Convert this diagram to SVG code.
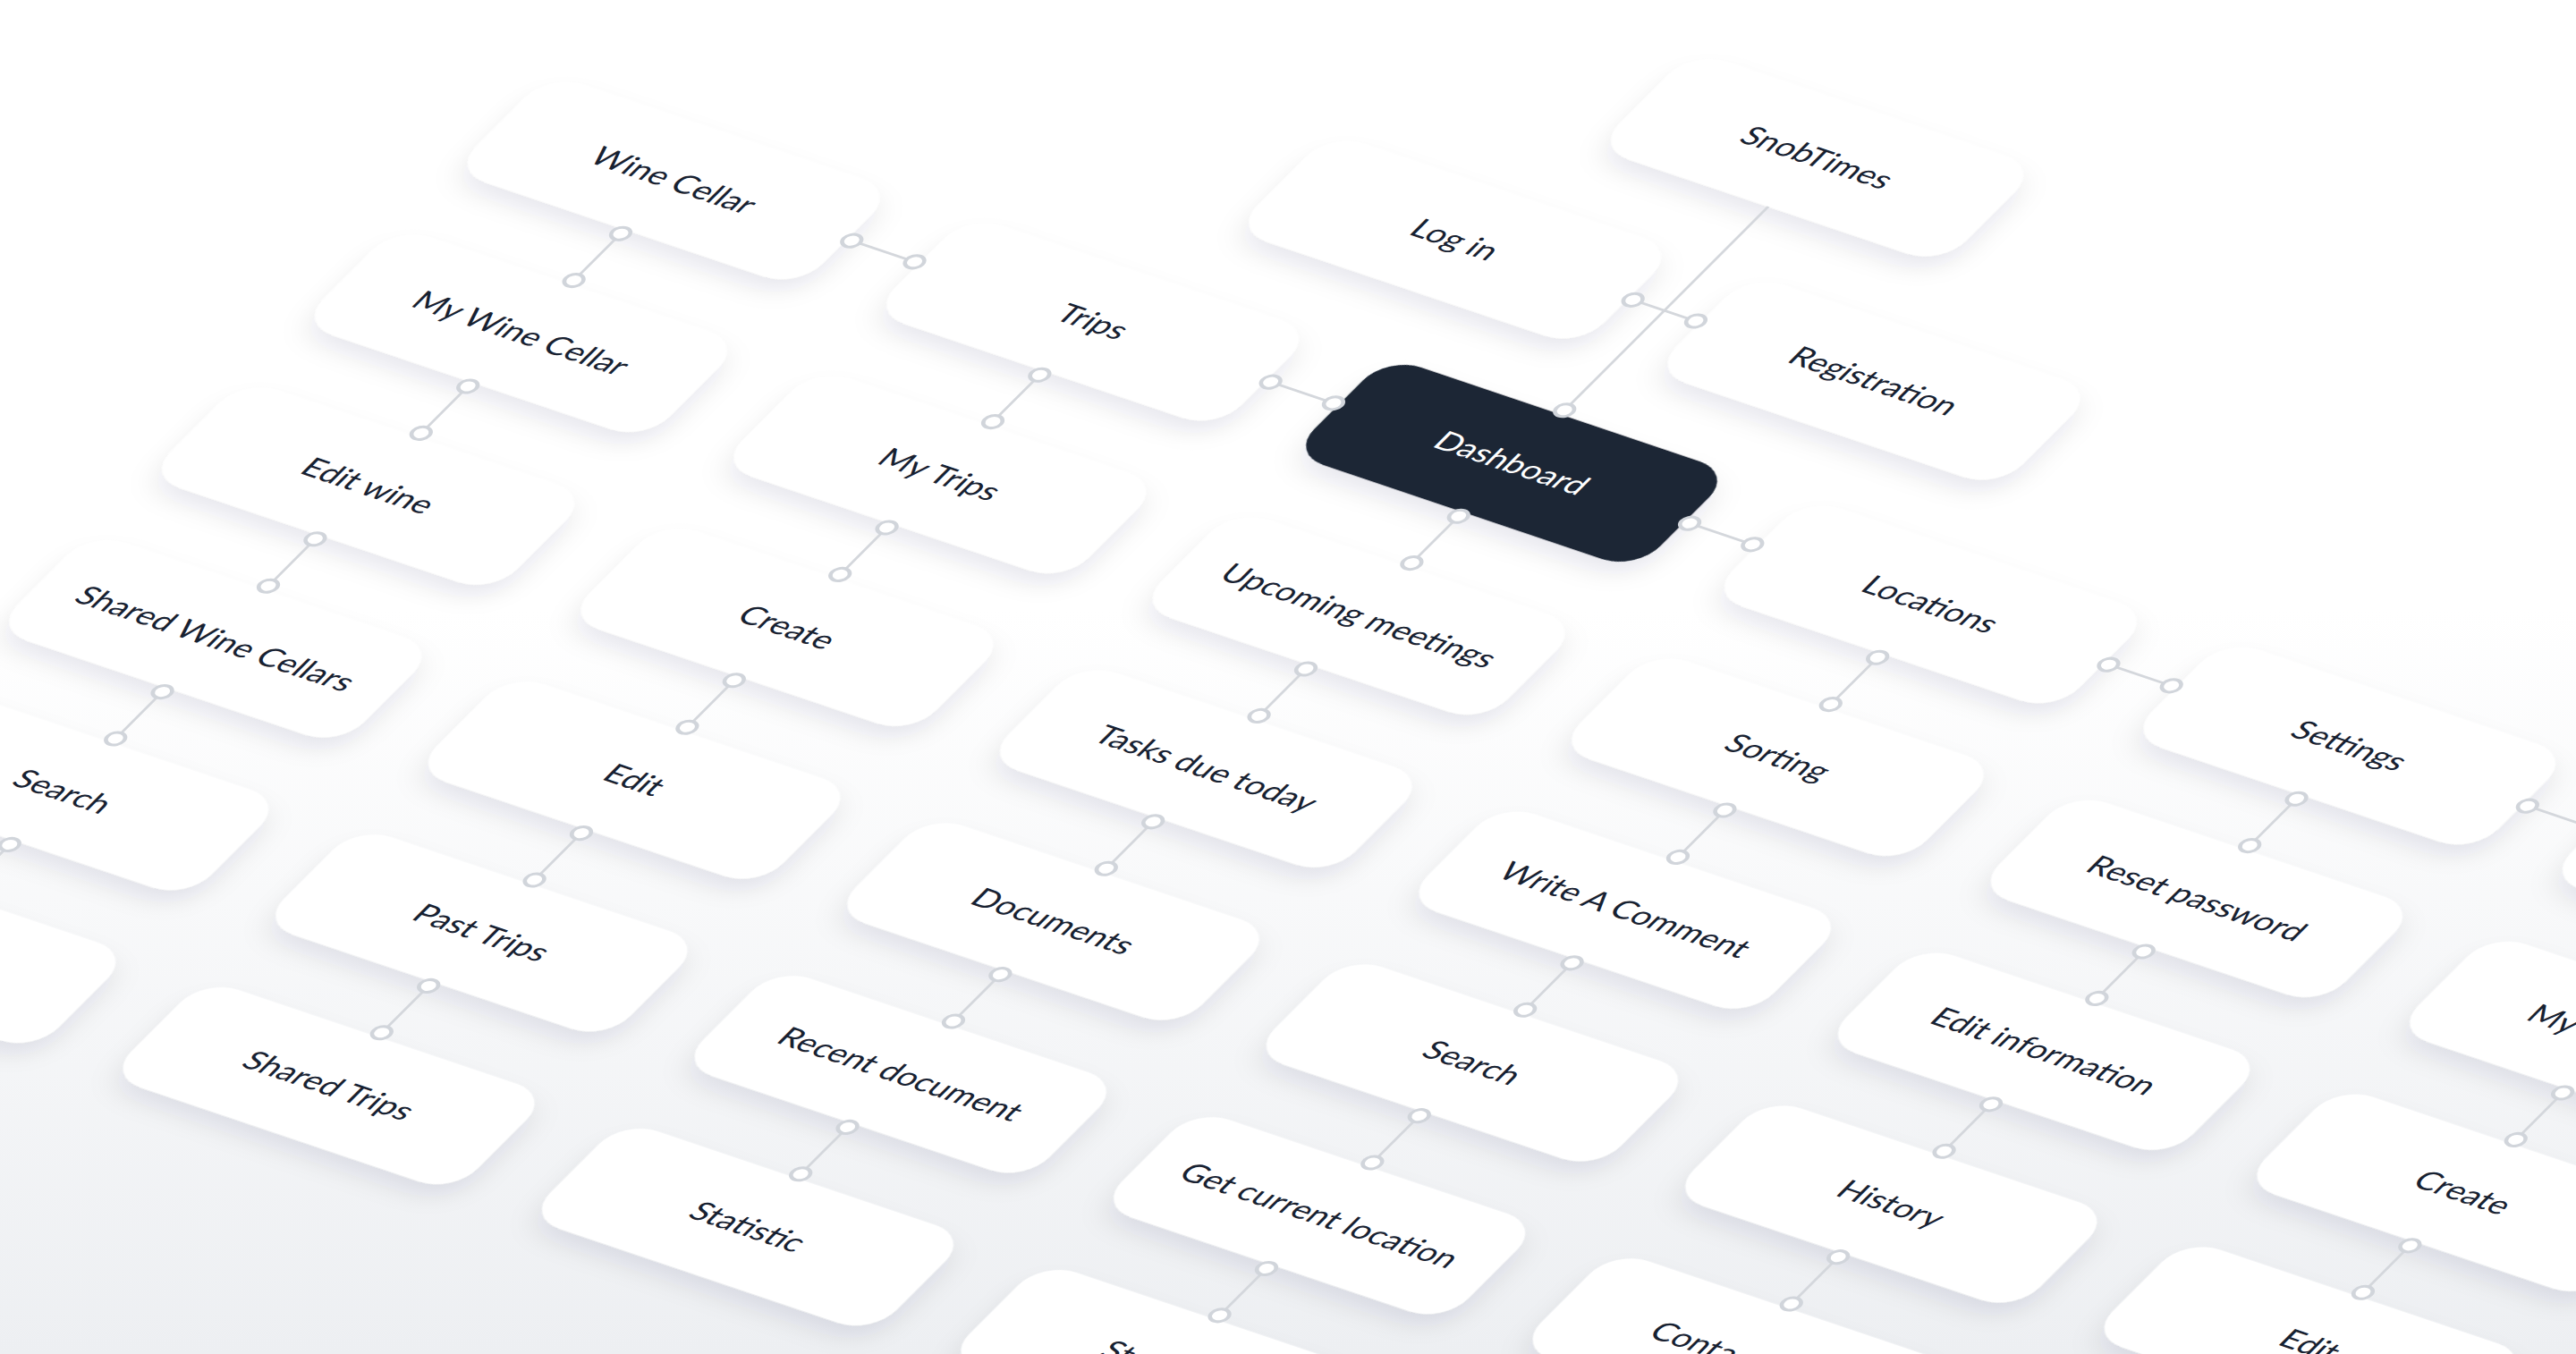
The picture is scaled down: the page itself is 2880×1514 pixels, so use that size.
<svg xmlns="http://www.w3.org/2000/svg" width="2880" height="1514" viewBox="0 0 2880 1514">
<defs>
<linearGradient id="bg" x1="0" y1="0" x2="0" y2="1">
<stop offset="0" stop-color="#ffffff"/>
<stop offset="0.45" stop-color="#ffffff"/>
<stop offset="1" stop-color="#edeff2"/>
</linearGradient>
<filter id="sh" x="-20%" y="-40%" width="140%" height="200%">
<feGaussianBlur in="SourceAlpha" stdDeviation="9"/>
<feOffset dx="4" dy="10" result="b"/>
<feFlood flood-color="#1a2540" flood-opacity="0.09"/>
<feComposite in2="b" operator="in" result="s"/>
<feMerge><feMergeNode in="s"/><feMergeNode in="SourceGraphic"/></feMerge>
</filter>
</defs>
<style>
.card{fill:#ffffff;filter:url(#sh)}
.dark{fill:#1a2535;filter:url(#sh)}
.lbl{font-family:Lato,"Noto Sans","Liberation Sans",sans-serif;font-size:22px;fill:#172131;text-anchor:middle}
.st{text-anchor:start}
.wt{fill:#ffffff}
.ln{stroke:#d4d7dc;stroke-width:1.9;fill:none}
.dot{fill:#ffffff;stroke:#d1d5db;stroke-width:2.4}
</style>
<rect width="2880" height="1514" fill="url(#bg)"/>
<g transform="matrix(1.5613 0.5267 -1.1387 1.1387 1690 518)">
<g id="nodes">
<g id="n-wine-cellar" transform="translate(-600,0)"><rect class="card" x="-124" y="-48" width="248" height="96" rx="24"/><text class="lbl" y="7.5">Wine Cellar</text></g>
<g id="n-my-wine-cellar" transform="translate(-600,150)"><rect class="card" x="-124" y="-48" width="248" height="96" rx="24"/><text class="lbl" y="7.5">My Wine Cellar</text></g>
<g id="n-edit-wine" transform="translate(-600,300)"><rect class="card" x="-124" y="-48" width="248" height="96" rx="24"/><text class="lbl" y="7.5">Edit wine</text></g>
<g id="n-shared-wine-cellars" transform="translate(-600,450)"><rect class="card" x="-124" y="-48" width="248" height="96" rx="24"/><text class="lbl" y="7.5">Shared Wine Cellars</text></g>
<g id="n-search-1" transform="translate(-600,600)"><rect class="card" x="-124" y="-48" width="248" height="96" rx="24"/><text class="lbl" y="7.5">Search</text></g>
<g id="n-blank-1" transform="translate(-600,750)"><rect class="card" x="-124" y="-48" width="248" height="96" rx="24"/></g>
<g id="n-trips" transform="translate(-300,0)"><rect class="card" x="-124" y="-48" width="248" height="96" rx="24"/><text class="lbl" y="7.5">Trips</text></g>
<g id="n-my-trips" transform="translate(-300,150)"><rect class="card" x="-124" y="-48" width="248" height="96" rx="24"/><text class="lbl" y="7.5">My Trips</text></g>
<g id="n-create-1" transform="translate(-300,300)"><rect class="card" x="-124" y="-48" width="248" height="96" rx="24"/><text class="lbl" y="7.5">Create</text></g>
<g id="n-edit-1" transform="translate(-300,450)"><rect class="card" x="-124" y="-48" width="248" height="96" rx="24"/><text class="lbl" y="7.5">Edit</text></g>
<g id="n-past-trips" transform="translate(-300,600)"><rect class="card" x="-124" y="-48" width="248" height="96" rx="24"/><text class="lbl" y="7.5">Past Trips</text></g>
<g id="n-shared-trips" transform="translate(-300,750)"><rect class="card" x="-124" y="-48" width="248" height="96" rx="24"/><text class="lbl" y="7.5">Shared Trips</text></g>
<g id="n-snobtimes" transform="translate(0,-300)"><rect class="card" x="-124" y="-48" width="248" height="96" rx="24"/><text class="lbl" y="7.5">SnobTimes</text></g>
<g id="n-login" transform="translate(-150,-150)"><rect class="card" x="-124" y="-48" width="248" height="96" rx="24"/><text class="lbl" y="7.5">Log in</text></g>
<g id="n-registration" transform="translate(150,-150)"><rect class="card" x="-124" y="-48" width="248" height="96" rx="24"/><text class="lbl" y="7.5">Registration</text></g>
<g id="n-dashboard" transform="translate(0,0)"><rect class="dark" x="-124" y="-48" width="248" height="96" rx="24"/><text class="lbl wt" y="7.5">Dashboard</text></g>
<g id="n-upcoming-meetings" transform="translate(0,150)"><rect class="card" x="-124" y="-48" width="248" height="96" rx="24"/><text class="lbl" y="7.5">Upcoming meetings</text></g>
<g id="n-tasks-due-today" transform="translate(0,300)"><rect class="card" x="-124" y="-48" width="248" height="96" rx="24"/><text class="lbl" y="7.5">Tasks due today</text></g>
<g id="n-documents" transform="translate(0,450)"><rect class="card" x="-124" y="-48" width="248" height="96" rx="24"/><text class="lbl" y="7.5">Documents</text></g>
<g id="n-recent-document" transform="translate(0,600)"><rect class="card" x="-124" y="-48" width="248" height="96" rx="24"/><text class="lbl" y="7.5">Recent document</text></g>
<g id="n-statistic" transform="translate(0,750)"><rect class="card" x="-124" y="-48" width="248" height="96" rx="24"/><text class="lbl" y="7.5">Statistic</text></g>
<g id="n-locations" transform="translate(300,0)"><rect class="card" x="-124" y="-48" width="248" height="96" rx="24"/><text class="lbl" y="7.5">Locations</text></g>
<g id="n-sorting" transform="translate(300,150)"><rect class="card" x="-124" y="-48" width="248" height="96" rx="24"/><text class="lbl" y="7.5">Sorting</text></g>
<g id="n-write-a-comment" transform="translate(300,300)"><rect class="card" x="-124" y="-48" width="248" height="96" rx="24"/><text class="lbl" y="7.5">Write A Comment</text></g>
<g id="n-search-2" transform="translate(300,450)"><rect class="card" x="-124" y="-48" width="248" height="96" rx="24"/><text class="lbl" y="7.5">Search</text></g>
<g id="n-get-current-location" transform="translate(300,600)"><rect class="card" x="-124" y="-48" width="248" height="96" rx="24"/><text class="lbl" y="7.5">Get current location</text></g>
<g id="n-st" transform="translate(300,750)"><rect class="card" x="-124" y="-48" width="248" height="96" rx="24"/><text class="lbl st" x="-44" y="7.5">St</text></g>
<g id="n-settings" transform="translate(600,0)"><rect class="card" x="-124" y="-48" width="248" height="96" rx="24"/><text class="lbl" y="7.5">Settings</text></g>
<g id="n-reset-password" transform="translate(600,150)"><rect class="card" x="-124" y="-48" width="248" height="96" rx="24"/><text class="lbl" y="7.5">Reset password</text></g>
<g id="n-edit-information" transform="translate(600,300)"><rect class="card" x="-124" y="-48" width="248" height="96" rx="24"/><text class="lbl" y="7.5">Edit information</text></g>
<g id="n-history" transform="translate(600,450)"><rect class="card" x="-124" y="-48" width="248" height="96" rx="24"/><text class="lbl" y="7.5">History</text></g>
<g id="n-conta" transform="translate(600,600)"><rect class="card" x="-124" y="-48" width="248" height="96" rx="24"/><text class="lbl st" x="-60" y="7.5">Conta</text></g>
<g id="n-blank-2" transform="translate(900,0)"><rect class="card" x="-124" y="-48" width="248" height="96" rx="24"/></g>
<g id="n-my" transform="translate(900,150)"><rect class="card" x="-124" y="-48" width="248" height="96" rx="24"/><text class="lbl st" x="-60" y="7.5">My</text></g>
<g id="n-create-2" transform="translate(900,300)"><rect class="card" x="-124" y="-48" width="248" height="96" rx="24"/><text class="lbl" y="7.5">Create</text></g>
<g id="n-edit-2" transform="translate(900,450)"><rect class="card" x="-124" y="-48" width="248" height="96" rx="24"/><text class="lbl" y="7.5">Edit</text></g>
</g>
<g id="connectors">
<path class="ln" d="M-472.5 0H-427.5M-172.5 0H-127.5M127.5 0H172.5M427.5 0H472.5M727.5 0H772.5M-22.5 -150H22.5M0 -252V-52"/>
<path class="ln" d="M-600 52V98M-600 202V248M-600 352V398M-600 502V548M-600 652V698M-300 52V98M-300 202V248M-300 352V398M-300 502V548M-300 652V698M0 52V98M0 202V248M0 352V398M0 502V548M0 652V698M300 52V98M300 202V248M300 352V398M300 502V548M300 652V698M600 52V98M600 202V248M600 352V398M600 502V548M900 52V98M900 202V248M900 352V398"/>
<g id="dots">
<circle class="dot" cx="-472.5" cy="0" r="5.6"/><circle class="dot" cx="-427.5" cy="0" r="5.6"/>
<circle class="dot" cx="-172.5" cy="0" r="5.6"/><circle class="dot" cx="-127.5" cy="0" r="5.6"/>
<circle class="dot" cx="127.5" cy="0" r="5.6"/><circle class="dot" cx="172.5" cy="0" r="5.6"/>
<circle class="dot" cx="427.5" cy="0" r="5.6"/><circle class="dot" cx="472.5" cy="0" r="5.6"/>
<circle class="dot" cx="727.5" cy="0" r="5.6"/><circle class="dot" cx="772.5" cy="0" r="5.6"/>
<circle class="dot" cx="-22.5" cy="-150" r="5.6"/><circle class="dot" cx="22.5" cy="-150" r="5.6"/>
<circle class="dot" cx="0" cy="-52" r="5.6"/>
<circle class="dot" cx="-600" cy="52" r="5.6"/><circle class="dot" cx="-600" cy="98" r="5.6"/>
<circle class="dot" cx="-600" cy="202" r="5.6"/><circle class="dot" cx="-600" cy="248" r="5.6"/>
<circle class="dot" cx="-600" cy="352" r="5.6"/><circle class="dot" cx="-600" cy="398" r="5.6"/>
<circle class="dot" cx="-600" cy="502" r="5.6"/><circle class="dot" cx="-600" cy="548" r="5.6"/>
<circle class="dot" cx="-600" cy="652" r="5.6"/><circle class="dot" cx="-600" cy="698" r="5.6"/>
<circle class="dot" cx="-300" cy="52" r="5.6"/><circle class="dot" cx="-300" cy="98" r="5.6"/>
<circle class="dot" cx="-300" cy="202" r="5.6"/><circle class="dot" cx="-300" cy="248" r="5.6"/>
<circle class="dot" cx="-300" cy="352" r="5.6"/><circle class="dot" cx="-300" cy="398" r="5.6"/>
<circle class="dot" cx="-300" cy="502" r="5.6"/><circle class="dot" cx="-300" cy="548" r="5.6"/>
<circle class="dot" cx="-300" cy="652" r="5.6"/><circle class="dot" cx="-300" cy="698" r="5.6"/>
<circle class="dot" cx="0" cy="52" r="5.6"/><circle class="dot" cx="0" cy="98" r="5.6"/>
<circle class="dot" cx="0" cy="202" r="5.6"/><circle class="dot" cx="0" cy="248" r="5.6"/>
<circle class="dot" cx="0" cy="352" r="5.6"/><circle class="dot" cx="0" cy="398" r="5.6"/>
<circle class="dot" cx="0" cy="502" r="5.6"/><circle class="dot" cx="0" cy="548" r="5.6"/>
<circle class="dot" cx="0" cy="652" r="5.6"/><circle class="dot" cx="0" cy="698" r="5.6"/>
<circle class="dot" cx="300" cy="52" r="5.6"/><circle class="dot" cx="300" cy="98" r="5.6"/>
<circle class="dot" cx="300" cy="202" r="5.6"/><circle class="dot" cx="300" cy="248" r="5.6"/>
<circle class="dot" cx="300" cy="352" r="5.6"/><circle class="dot" cx="300" cy="398" r="5.6"/>
<circle class="dot" cx="300" cy="502" r="5.6"/><circle class="dot" cx="300" cy="548" r="5.6"/>
<circle class="dot" cx="300" cy="652" r="5.6"/><circle class="dot" cx="300" cy="698" r="5.6"/>
<circle class="dot" cx="600" cy="52" r="5.6"/><circle class="dot" cx="600" cy="98" r="5.6"/>
<circle class="dot" cx="600" cy="202" r="5.6"/><circle class="dot" cx="600" cy="248" r="5.6"/>
<circle class="dot" cx="600" cy="352" r="5.6"/><circle class="dot" cx="600" cy="398" r="5.6"/>
<circle class="dot" cx="600" cy="502" r="5.6"/><circle class="dot" cx="600" cy="548" r="5.6"/>
<circle class="dot" cx="900" cy="52" r="5.6"/><circle class="dot" cx="900" cy="98" r="5.6"/>
<circle class="dot" cx="900" cy="202" r="5.6"/><circle class="dot" cx="900" cy="248" r="5.6"/>
<circle class="dot" cx="900" cy="352" r="5.6"/><circle class="dot" cx="900" cy="398" r="5.6"/>
</g>
</g>
</g>
</svg>
